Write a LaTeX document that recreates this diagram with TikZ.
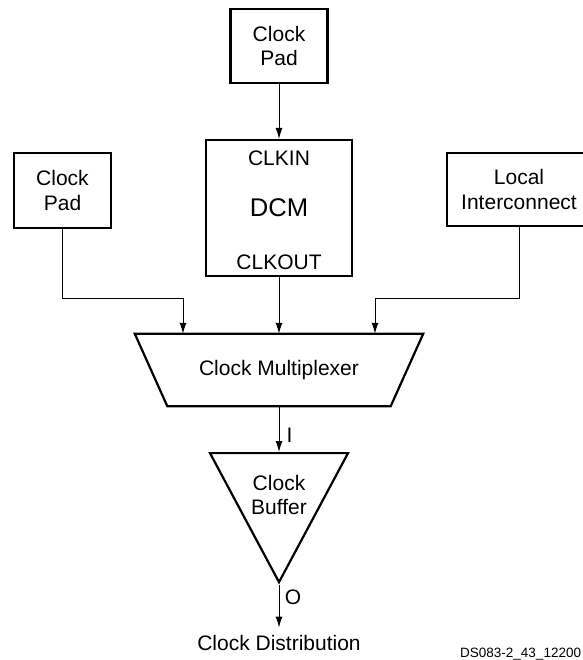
\documentclass[tikz,border=0pt]{standalone}
\usepackage{fontspec}
\setmainfont{Liberation Sans}
\usetikzlibrary{positioning,shapes.geometric,arrows.meta}

\begin{document}
\begin{tikzpicture}[x=1pt, y=-1pt, blk/.style={draw, line width=2.2pt, align=center, font=\fontsize{21}{24.5}\selectfont}, txt/.style={inner sep=0pt, align=center, font=\fontsize{21}{24.5}\selectfont}, wire/.style={line width=1pt, -{Latex[length=11pt,width=7pt]}}]
\useasboundingbox (0,0) rectangle (582,660);

\node[blk, minimum width=97pt, minimum height=74pt] (toppad) at (279,46) {Clock\\Pad};
\node[blk, minimum width=146pt, minimum height=136pt, font=\fontsize{25.6}{30}\selectfont] (dcm) at (279,208) {DCM};
\node[txt, below=11.5pt of dcm.north] (clkin) {CLKIN};
\node[txt, above=7.5pt of dcm.south] (clkout) {CLKOUT};
\node[blk, minimum width=97pt, minimum height=75pt] (leftpad) at (62.5,190.5) {Clock\\Pad};
\node[blk, minimum width=144pt, minimum height=73pt] (lic) at (519,189.5) {Local\\Interconnect};

\node[txt, minimum width=288pt, minimum height=72pt] (mux) at (279,370) {Clock Multiplexer};
\draw[line width=2.2pt] (mux.north west) -- (mux.north east) -- ([xshift=-32.5pt]mux.south east) -- ([xshift=32.5pt]mux.south west) -- cycle;

\node[draw, line width=2.2pt, isosceles triangle, isosceles triangle stretches, shape border rotate=-90, minimum width=138pt, minimum height=129pt, inner sep=0pt, anchor=apex] (buf) at (279,585) {};
\node[txt] (buftxt) at (279,495) {Clock\\Buffer};
\node[txt, inner sep=7pt, anchor=base] (dist) at (279,650) {Clock Distribution};

\coordinate (jl) at (183,298);
\coordinate (jr) at (375,298);

\draw[wire] (toppad) -- (dcm);
\draw[wire] (dcm) -- (mux);
\foreach \src/\j in {leftpad/jl, lic/jr}{
  \draw[wire] (\src.south) |- (\j) -- (\j |- mux.north);
}
\draw[wire] (mux) -- node[txt, right=7pt, pos=0.64] (lbli) {I} (buf);
\draw[wire] (buf.apex) -- node[txt, right=5.4pt, pos=0.28] (lblo) {O} (dist.north);

\node[anchor=base west, inner sep=0pt, font=\fontsize{13.5}{16}\selectfont] (figid) at (460,657) {DS083-2\_43\_12200};
\end{tikzpicture}
\end{document}
